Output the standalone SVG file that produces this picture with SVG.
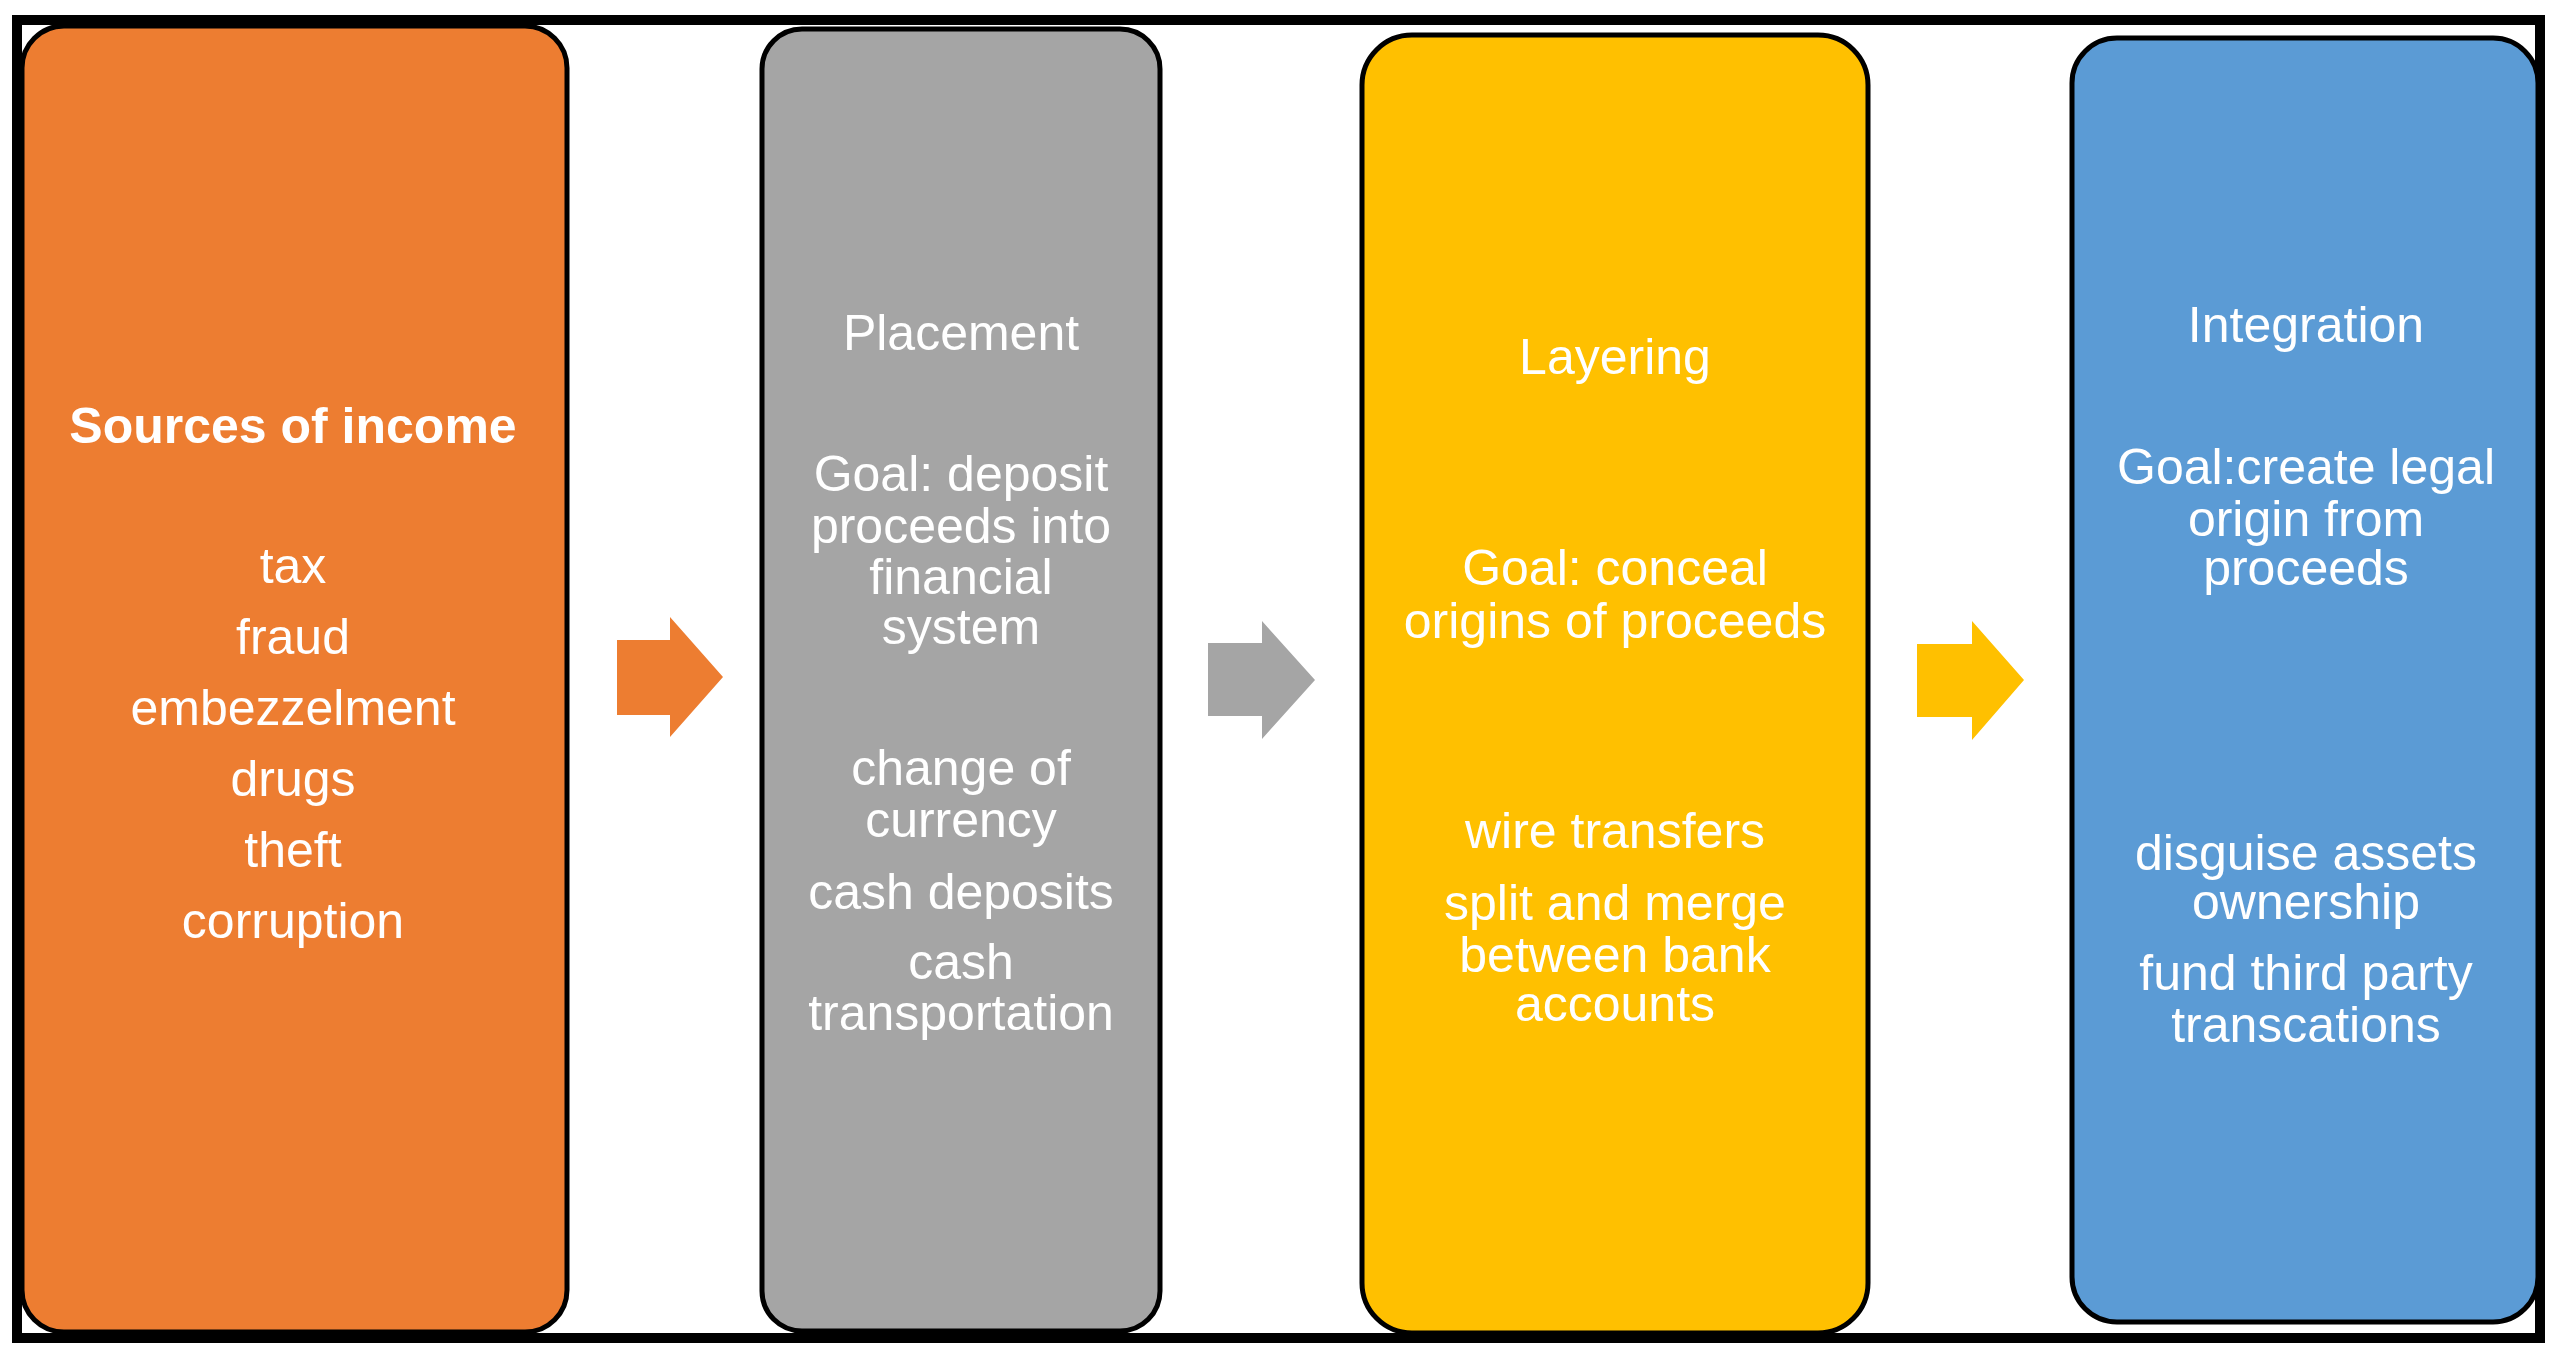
<svg xmlns="http://www.w3.org/2000/svg" width="2560" height="1355" viewBox="0 0 2560 1355">
  <style>
    .box { stroke: #000000; stroke-width: 5; }
    .t { font-family: "Liberation Sans", Arial, sans-serif; font-size: 50px; fill: #FFFFFF; text-anchor: middle; }
    .b { font-weight: bold; }
  </style>
  <rect x="0" y="0" width="2560" height="1355" fill="#FFFFFF"/>
  <g id="frame">
    <rect x="17" y="20" width="2523" height="1318" fill="none" stroke="#000000" stroke-width="10"/>
  </g>
  <g id="node-sources">
    <rect class="box" x="22" y="26" width="545" height="1306" rx="42" ry="42" fill="#ED7D31"/>
    <text class="t b" x="293" y="443">Sources of income</text>
    <text class="t" x="293" y="583">tax</text>
    <text class="t" x="293" y="654">fraud</text>
    <text class="t" x="293" y="725">embezzelment</text>
    <text class="t" x="293" y="796">drugs</text>
    <text class="t" x="293" y="867">theft</text>
    <text class="t" x="293" y="938">corruption</text>
  </g>
  <g id="node-placement">
    <rect class="box" x="762" y="29" width="398" height="1302" rx="40" ry="40" fill="#A5A5A5"/>
    <text class="t" x="961" y="350">Placement</text>
    <text class="t" x="961" y="491">Goal: deposit</text>
    <text class="t" x="961" y="543">proceeds into</text>
    <text class="t" x="961" y="594">financial</text>
    <text class="t" x="961" y="644">system</text>
    <text class="t" x="961" y="785">change of</text>
    <text class="t" x="961" y="837">currency</text>
    <text class="t" x="961" y="909">cash deposits</text>
    <text class="t" x="961" y="979">cash</text>
    <text class="t" x="961" y="1030">transportation</text>
  </g>
  <g id="node-layering">
    <rect class="box" x="1362" y="35" width="506" height="1298" rx="50" ry="50" fill="#FFC000"/>
    <text class="t" x="1615" y="374">Layering</text>
    <text class="t" x="1615" y="585">Goal: conceal</text>
    <text class="t" x="1615" y="638">origins of proceeds</text>
    <text class="t" x="1615" y="848">wire transfers</text>
    <text class="t" x="1615" y="920">split and merge</text>
    <text class="t" x="1615" y="972">between bank</text>
    <text class="t" x="1615" y="1021">accounts</text>
  </g>
  <g id="node-integration">
    <rect class="box" x="2072" y="38" width="466" height="1284" rx="45" ry="45" fill="#5B9BD5"/>
    <text class="t" x="2306" y="342">Integration</text>
    <text class="t" x="2306" y="484">Goal:create legal</text>
    <text class="t" x="2306" y="536">origin from</text>
    <text class="t" x="2306" y="585">proceeds</text>
    <text class="t" x="2306" y="870">disguise assets</text>
    <text class="t" x="2306" y="919">ownership</text>
    <text class="t" x="2306" y="990">fund third party</text>
    <text class="t" x="2306" y="1042">transcations</text>
  </g>
  <g id="connectors">
    <path d="M617,640 L670,640 L670,617 L723,677 L670,737 L670,715 L617,715 Z" fill="#ED7D31"/>
    <path d="M1208,643 L1262,643 L1262,621 L1315,680 L1262,739 L1262,716 L1208,716 Z" fill="#A5A5A5"/>
    <path d="M1917,644 L1972,644 L1972,621 L2024,680 L1972,740 L1972,717 L1917,717 Z" fill="#FFC000"/>
  </g>
</svg>
